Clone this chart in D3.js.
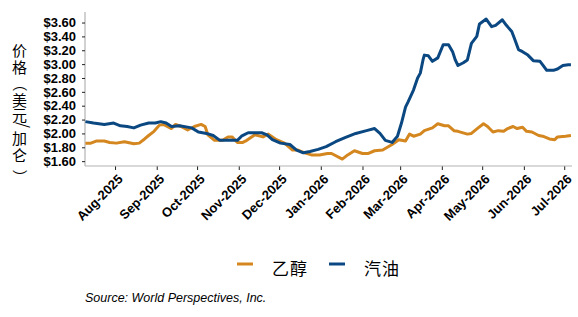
<!DOCTYPE html>
<html>
<head>
<meta charset="utf-8">
<script src="https://cdn.jsdelivr.net/npm/d3@7"></script>
<style>
  html, body { margin: 0; padding: 0; background: #fff; }
  svg { display: block; }
</style>
</head>
<body>
<svg id="chart" width="578" height="317"></svg>
<script>
// ---- Data ----
const seriesNames = ["乙醇", "汽油"];
const seriesColors = ["#D4861F", "#0B4882"];

const ethanolDates = ["2025-07-10","2025-07-14","2025-07-18","2025-07-24","2025-07-28","2025-08-02","2025-08-08","2025-08-15","2025-08-19","2025-08-23","2025-08-26","2025-08-30","2025-09-03","2025-09-06","2025-09-12","2025-09-15","2025-09-19","2025-09-24","2025-09-29","2025-10-04","2025-10-07","2025-10-09","2025-10-14","2025-10-20","2025-10-24","2025-10-27","2025-10-31","2025-11-04","2025-11-07","2025-11-13","2025-11-19","2025-11-23","2025-11-29","2025-12-05","2025-12-11","2025-12-15","2025-12-20","2025-12-25","2025-12-31","2026-01-06","2026-01-09","2026-01-17","2026-01-21","2026-01-26","2026-02-01","2026-02-05","2026-02-10","2026-02-16","2026-02-23","2026-02-28","2026-03-05","2026-03-08","2026-03-11","2026-03-16","2026-03-19","2026-03-25","2026-03-29","2026-04-03","2026-04-06","2026-04-10","2026-04-13","2026-04-20","2026-04-23","2026-04-28","2026-05-02","2026-05-05","2026-05-09","2026-05-13","2026-05-17","2026-05-20","2026-05-24","2026-05-27","2026-05-31","2026-06-03","2026-06-07","2026-06-12","2026-06-15","2026-06-20","2026-06-24","2026-06-26","2026-07-02","2026-07-06"];
const ethanolValues = [1.86,1.86,1.89,1.89,1.87,1.86,1.88,1.85,1.86,1.92,1.97,2.03,2.12,2.13,2.07,2.13,2.10,2.05,2.10,2.13,2.10,1.98,1.90,1.90,1.95,1.95,1.87,1.87,1.90,1.98,1.95,1.99,1.91,1.86,1.76,1.76,1.72,1.69,1.69,1.71,1.71,1.63,1.69,1.75,1.71,1.71,1.75,1.76,1.84,1.91,1.89,1.99,1.96,1.99,2.04,2.08,2.14,2.11,2.11,2.04,2.03,1.99,2.00,2.08,2.14,2.10,2.02,2.04,2.03,2.07,2.10,2.07,2.09,2.03,2.02,1.97,1.96,1.92,1.91,1.95,1.96,1.97];

const gasolineDates = ["2025-07-10","2025-07-16","2025-07-24","2025-07-31","2025-08-05","2025-08-10","2025-08-15","2025-08-20","2025-08-26","2025-08-31","2025-09-04","2025-09-08","2025-09-12","2025-09-18","2025-09-27","2025-10-02","2025-10-08","2025-10-13","2025-10-18","2025-10-25","2025-10-31","2025-11-03","2025-11-08","2025-11-13","2025-11-18","2025-11-22","2025-11-26","2025-12-02","2025-12-09","2025-12-14","2025-12-19","2025-12-24","2025-12-30","2026-01-05","2026-01-12","2026-01-19","2026-01-27","2026-02-04","2026-02-10","2026-02-14","2026-02-18","2026-02-23","2026-02-27","2026-03-02","2026-03-05","2026-03-07","2026-03-11","2026-03-14","2026-03-16","2026-03-18","2026-03-19","2026-03-22","2026-03-25","2026-03-29","2026-04-02","2026-04-06","2026-04-09","2026-04-11","2026-04-13","2026-04-17","2026-04-20","2026-04-23","2026-04-27","2026-04-29","2026-05-04","2026-05-08","2026-05-11","2026-05-16","2026-05-19","2026-05-23","2026-05-25","2026-05-28","2026-05-31","2026-06-04","2026-06-08","2026-06-13","2026-06-15","2026-06-18","2026-06-23","2026-06-26","2026-06-30","2026-07-04","2026-07-06"];
const gasolineValues = [2.17,2.15,2.13,2.15,2.11,2.10,2.08,2.12,2.15,2.15,2.17,2.15,2.10,2.11,2.08,2.02,2.00,1.97,1.90,1.90,1.90,1.96,2.01,2.01,2.01,1.98,1.91,1.86,1.84,1.76,1.72,1.74,1.77,1.81,1.88,1.94,2.00,2.04,2.07,2.00,1.90,1.87,1.96,2.15,2.38,2.46,2.63,2.80,2.87,3.06,3.13,3.12,3.04,3.09,3.28,3.28,3.18,3.06,2.98,3.02,3.06,3.30,3.40,3.58,3.65,3.54,3.56,3.64,3.56,3.47,3.37,3.21,3.18,3.13,3.05,3.04,2.99,2.91,2.91,2.93,2.98,2.99,2.99];

const yTickValues = [1.6,1.8,2.0,2.2,2.4,2.6,2.8,3.0,3.2,3.4,3.6];
const yTitle = "价格（美元/加仑）";
const sourceText = "Source: World Perspectives, Inc.";

// ---- Build ----
const parse = d3.timeParse("%Y-%m-%d");
const series = [
  {name: seriesNames[0], color: seriesColors[0], pts: ethanolDates.map((d,i)=>({date: parse(d), value: ethanolValues[i]}))},
  {name: seriesNames[1], color: seriesColors[1], pts: gasolineDates.map((d,i)=>({date: parse(d), value: gasolineValues[i]}))}
];

const svg = d3.select("#chart");
const plot = {left: 85, right: 572, top: 12, bottom: 166};

const x = d3.scaleTime()
  .domain([new Date(2025, 6, 9, 16), new Date(2026, 6, 6, 19)])
  .range([plot.left, plot.right]);
const y = d3.scaleLinear()
  .domain([1.53, 3.752])
  .range([plot.bottom, plot.top]);

// axes lines
svg.append("line").attr("x1", plot.left).attr("x2", plot.left)
  .attr("y1", plot.top).attr("y2", plot.bottom)
  .attr("stroke", "#b3b3b3").attr("stroke-width", 1.2);

// y axis ticks + labels
const yAxis = d3.axisLeft(y).tickValues(yTickValues).tickSize(3).tickPadding(6)
  .tickFormat(d => "$" + d3.format(".2f")(d));
const gy = svg.append("g").attr("transform", `translate(${plot.left},0)`).call(yAxis);
gy.select(".domain").remove();
gy.selectAll(".tick line").attr("stroke", "#222");
gy.selectAll(".tick text")
  .attr("font-family", "Liberation Sans, Arial, sans-serif")
  .attr("font-weight", "bold").attr("font-size", 13).attr("fill", "#000");

// x axis
const xAxis = d3.axisBottom(x).ticks(d3.timeMonth.every(1)).tickSize(4)
  .tickFormat(d3.timeFormat("%b-%Y"));
const gx = svg.append("g").attr("transform", `translate(0,${plot.bottom})`).call(xAxis);
gx.select(".domain").remove();
gx.selectAll(".tick line").attr("stroke", "#222");
gx.selectAll(".tick text")
  .attr("font-family", "Liberation Sans, Arial, sans-serif")
  .attr("font-weight", "bold").attr("font-size", 13).attr("fill", "#000")
  .attr("text-anchor", "end")
  .attr("dy", null).attr("y", null)
  .attr("transform", "translate(8,14) rotate(-45)");

svg.append("line").attr("x1", plot.left).attr("x2", plot.right)
  .attr("y1", plot.bottom).attr("y2", plot.bottom)
  .attr("stroke", "#b3b3b3").attr("stroke-width", 1.2);

// lines
const line = d3.line().x(d => x(d.date)).y(d => y(d.value)).curve(d3.curveLinear);
svg.append("g").selectAll("path").data(series).join("path")
  .attr("d", s => line(s.pts))
  .attr("fill", "none")
  .attr("stroke", s => s.color)
  .attr("stroke-width", 3)
  .attr("stroke-linejoin", "round");

// y title: vertical stack, brackets and slash turned 90deg like vertical typesetting
(function() {
  const fs = 15, cx = 19.5;
  const chars = Array.from(yTitle);
  const rowCenters = [50, 67, 84, 100, 115.5, 124, 138, 155.5, 177];
  const xs = [], ys = [], rs = [];
  chars.forEach((c, i) => {
    const cy = rowCenters[i];
    if (c === "/") {
      xs.push(cx - 2); ys.push(cy - 2); rs.push(90);
    } else if (c === "（" || c === "）") {
      xs.push(cx - 0.38 * fs); ys.push(cy - fs / 2); rs.push(90);
    } else {
      xs.push(cx - fs / 2); ys.push(cy + 0.38 * fs); rs.push(0);
    }
  });
  svg.append("text")
    .attr("x", xs.join(" ")).attr("y", ys.join(" ")).attr("rotate", rs.join(" "))
    .attr("font-family", "Noto Sans CJK SC, sans-serif")
    .attr("font-size", fs).attr("fill", "#000")
    .text(yTitle);
})();

// legend
const legendItems = [
  {name: seriesNames[0], color: seriesColors[0], x: 237},
  {name: seriesNames[1], color: seriesColors[1], x: 329}
];
const lg = svg.append("g");
legendItems.forEach(it => {
  lg.append("line").attr("x1", it.x).attr("x2", it.x + 16)
    .attr("y1", 264).attr("y2", 264)
    .attr("stroke", it.color).attr("stroke-width", 3);
  lg.append("text").attr("x", it.x + 35).attr("y", 267)
    .attr("dominant-baseline", "central")
    .attr("font-family", "Noto Sans CJK SC, sans-serif")
    .attr("font-size", 17).attr("letter-spacing", 1)
    .attr("fill", "#000").text(it.name);
});

// source
svg.append("text").attr("x", 85).attr("y", 302)
  .attr("font-family", "Liberation Sans, Arial, sans-serif")
  .attr("font-style", "italic").attr("font-size", 12.5)
  .attr("fill", "#000").text(sourceText);
</script>
</body>
</html>
